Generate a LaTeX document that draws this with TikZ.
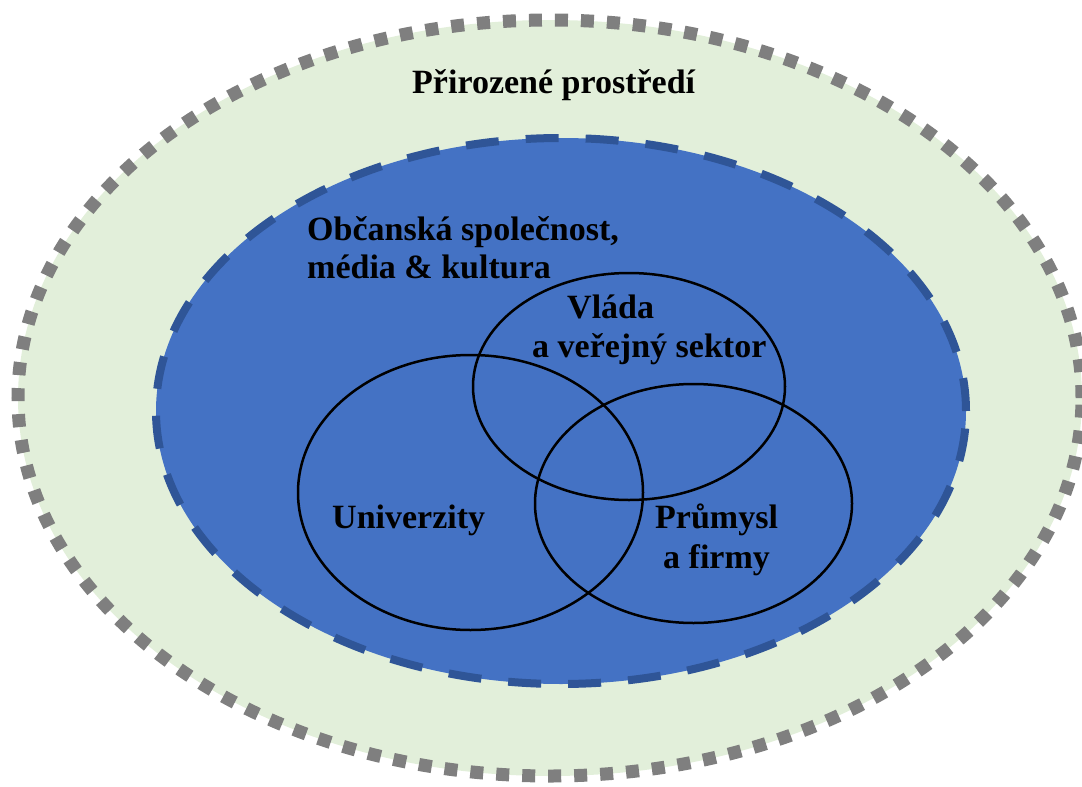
\documentclass[tikz,border=0pt]{standalone}
\usepackage{fontspec}
\setmainfont{Liberation Serif}
\usetikzlibrary{shapes.geometric}
\definecolor{natgreen}{HTML}{E2EFDA}
\definecolor{natgray}{HTML}{7F7F7F}
\definecolor{socblue}{HTML}{4472C4}
\definecolor{socdash}{HTML}{2F5597}
\tikzset{
  naturering/.style={ellipse, inner sep=0pt, fill=natgreen, draw=natgray, line width=13pt, dash pattern=on 13pt off 13pt},
  societyring/.style={ellipse, inner sep=0pt, fill=socblue, draw=socdash, line width=8pt, dash pattern=on 33pt off 27pt},
  sector/.style={ellipse, inner sep=0pt, draw=black, line width=2.5pt},
  lbl/.style={anchor=base west, inner sep=0pt, font=\fontsize{34}{39}\selectfont\bfseries, text=black}
}
\begin{document}
\begin{tikzpicture}[x=1pt, y=-1pt]
\useasboundingbox (0,0) rectangle (1082,787);
\node[naturering, minimum width=1064pt, minimum height=756pt] (nature) at (550,398) {};
\node[societyring, minimum width=810pt, minimum height=546pt] (society) at (561,411) {};
\node[sector, minimum width=312pt, minimum height=227pt] (gov) at (629,386.5) {};
\node[sector, minimum width=345pt, minimum height=275pt] (uni) at (470.5,492.5) {};
\node[sector, minimum width=317pt, minimum height=239pt] (ind) at (693.5,503.5) {};
\node[lbl] (natlbl) at (412,93) {Přirozené prostředí};
\node[lbl] (soclbl1) at (307,240) {Občanská společnost,};
\node[lbl] (soclbl2) at (307,278) {média \& kultura};
\node[lbl] (govlbl1) at (567,318) {Vláda};
\node[lbl] (govlbl2) at (532,357) {a veřejný sektor};
\node[lbl] (unilbl) at (332,528) {Univerzity};
\node[lbl] (indlbl1) at (655,528) {Průmysl};
\node[lbl] (indlbl2) at (663,568) {a firmy};
\end{tikzpicture}
\end{document}
